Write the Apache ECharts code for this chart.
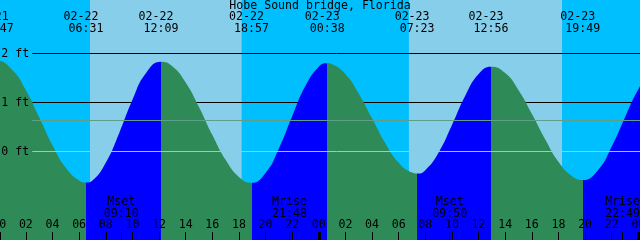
<!DOCTYPE html>
<html><head><meta charset="utf-8">
<script src="https://cdn.jsdelivr.net/npm/echarts@6/dist/echarts.min.js"></script>
<style>html,body{margin:0;padding:0;background:#00BFFF}#c{width:640px;height:240px}</style>
</head><body><div id="c"></div>
<script>
// ---------- data ----------
const chartTitle = 'Hobe Sound bridge, Florida';
// hourly water level readings (ft), hours counted from 02-22 00:00
const hourTimes = [-2,-1,0,1,2,3,4,5,6,7,8,9,10,11,12,13,14,15,16,17,18,19,20,21,22,23,24,25,26,27,28,29,30,31,32,33,34,35,36,37,38,39,40,41,42,43,44,45,46,47,48,49,50];
const hourHeights = [1.45,1.78,1.85,1.66,1.25,0.70,0.13,-0.33,-0.59,-0.59,-0.23,0.37,1.05,1.59,1.83,1.74,1.41,0.91,0.34,-0.17,-0.52,-0.64,-0.44,0.06,0.72,1.34,1.73,1.78,1.58,1.18,0.68,0.17,-0.23,-0.43,-0.38,-0.02,0.54,1.14,1.58,1.73,1.60,1.25,0.77,0.25,-0.21,-0.50,-0.58,-0.37,0.10,0.70,1.27,1.67,1.80];
// tide extremes
const tideEventTimes = ['02-21 23:47','02-22 06:31','02-22 12:09','02-22 18:57','02-23 00:38','02-23 07:23','02-23 12:56','02-23 19:49'];
const tideEventHeights = [1.86,-0.63,1.83,-0.64,1.80,-0.45,1.73,-0.58];
const tideEventKinds = ['high','low','high','low','high','low','high','low'];
// sun events (sunrise, sunset, ...)
const sunEventTimes = ['02-22 06:49','02-22 18:13','02-23 06:46','02-23 18:17'];
// moon events
const moonEventTimes = ['02-22 09:10','02-22 21:48','02-23 09:50','02-23 22:49'];
const moonEventNames = ['Mset','Mrise','Mset','Mrise'];
// depth lines
const depthLevels = [2, 1, 0];
const depthLabels = ['2 ft', '1 ft', '0 ft'];
const meanLevel = 0.633;
const hourLabelStep = 2;

// ---------- helpers ----------
const FONT = 'DejaVu Sans Mono';
const FS = 11.6;
const X_MIN = -2, X_MAX = 50;
const Y_MIN = -1.806, Y_MAX = 3.092;
const LINE_START = 2.48; // hours: depth lines start right of their labels
const C_NIGHT = '#00BFFF', C_DAY = '#87CEEB', C_RISE = '#0000FF', C_FALL = '#2E8B57';
const pad2 = n => String(n).padStart(2, '0');
function toHours(s) {
  const [md, hm] = s.split(' ');
  const d = Number(md.split('-')[1]);
  const [h, m] = hm.split(':').map(Number);
  return (d - 22) * 24 + h + m / 60;
}
const tideHours = tideEventTimes.map(toHours);
const sunHours = sunEventTimes.map(toHours);
const moonHours = moonEventTimes.map(toHours);
const midnightHours = [];
for (let t = Math.ceil(X_MIN / 24) * 24; t <= X_MAX; t += 24) midnightHours.push(t);

// hourly readings (skipping those that nearly coincide with an extreme) + extremes
const curve = hourTimes.map((t, i) => [t, hourHeights[i]])
  .filter(p => tideHours.every(e => Math.abs(e - p[0]) > 0.25))
  .concat(tideHours.map((t, i) => [t, tideEventHeights[i]]))
  .sort((a, b) => a[0] - b[0]);

const pieces = [];
pieces.push({ lt: tideHours[0], color: tideEventKinds[0] === 'high' ? C_RISE : C_FALL });
for (let i = 0; i < tideHours.length; i++) {
  const color = tideEventKinds[i] === 'low' ? C_RISE : C_FALL;
  if (i < tideHours.length - 1) pieces.push({ gte: tideHours[i], lt: tideHours[i + 1], color });
  else pieces.push({ gte: tideHours[i], color });
}

const bounds = [X_MIN, ...sunHours, X_MAX];
const skyBands = [];
for (let i = 0; i < bounds.length - 1; i++) {
  skyBands.push([{ xAxis: bounds[i], itemStyle: { color: i % 2 === 0 ? C_NIGHT : C_DAY, opacity: 1 } }, { xAxis: bounds[i + 1] }]);
}

function findIdx(arr, v) {
  let best = 0;
  arr.forEach((t, i) => { if (Math.abs(t - v) < Math.abs(arr[best] - v)) best = i; });
  return best;
}
const txt = { fontFamily: FONT, fontSize: FS, color: '#000' };

const baseX = { type: 'value', min: X_MIN, max: X_MAX, splitLine: { show: false }, axisLine: { show: false, onZero: false }, z: 10 };

const option = {
  animation: false,
  backgroundColor: C_NIGHT,
  title: { text: chartTitle, left: 'center', top: 0, padding: 0, z: 10,
    textStyle: { fontFamily: FONT, fontSize: FS, fontWeight: 'normal', color: '#000' } },
  grid: { left: -27.4, right: -25.0, top: 0, bottom: 0, containLabel: false, outerBoundsMode: 'none' },
  visualMap: { type: 'piecewise', show: false, dimension: 0, seriesIndex: 2, pieces },
  xAxis: [
    { ...baseX, position: 'bottom', interval: hourLabelStep,
      axisTick: { show: true, inside: true, length: 8, lineStyle: { color: '#000', width: 1 } },
      axisLabel: { show: true, inside: true, margin: 9, ...txt,
        formatter: v => pad2(((Math.round(v) % 24) + 24) % 24) } },
    { ...baseX, position: 'bottom',
      axisTick: { show: true, inside: true, length: 8, customValues: moonHours, lineStyle: { color: '#000', width: 1 } },
      axisLabel: { show: true, inside: true, margin: 20.5, customValues: moonHours, ...txt, lineHeight: 12,
        formatter: v => { const i = findIdx(moonHours, v); return moonEventNames[i] + '\n' + moonEventTimes[i].split(' ')[1]; } } },
    { ...baseX, position: 'bottom',
      axisTick: { show: true, inside: true, length: 8, customValues: midnightHours, lineStyle: { color: '#000', width: 3 } },
      axisLabel: { show: false } },
    { ...baseX, position: 'top',
      axisTick: { show: false },
      axisLabel: { show: true, inside: true, margin: 11.3, customValues: tideHours, ...txt,
        formatter: v => { const i = findIdx(tideHours, v); const [d, t] = tideEventTimes[i].split(' '); return '{d|' + d + '}\n{t|' + t + '}'; },
        rich: { d: { ...txt, lineHeight: 12, padding: [0, 10, 0, 0] }, t: { ...txt, lineHeight: 12 } } } }
  ],
  yAxis: { type: 'value', min: Y_MIN, max: Y_MAX, show: false, splitLine: { show: false } },
  series: [
    { type: 'line', data: [], z: 1, silent: true,
      markArea: { silent: true, z: 1, data: skyBands } },
    { type: 'line', data: [], z: 2, silent: true,
      markLine: { silent: true, z: 2, symbol: 'none', animation: false,
        lineStyle: { color: '#000', width: 1, type: 'solid', opacity: 1 },
        label: { show: false },
        data: depthLevels.filter(v => v !== 0).map(v => [{ coord: [LINE_START, v] }, { coord: [X_MAX, v] }]) } },
    { type: 'line', data: curve, z: 3, smooth: true, symbol: 'none', showSymbol: false, silent: true,
      lineStyle: { width: 0 }, areaStyle: { opacity: 1, origin: 'start' } },
    { type: 'line', data: [], z: 4, silent: true,
      markLine: { silent: true, z: 4, symbol: 'none', animation: false,
        data: [
          [{ coord: [LINE_START, meanLevel], lineStyle: { color: '#5F9F8A', width: 1, type: 'solid', opacity: 1 }, label: { show: false } }, { coord: [X_MAX, meanLevel] }],
          [{ coord: [LINE_START, 0], lineStyle: { color: C_DAY, width: 1, type: 'solid', opacity: 1 }, label: { show: false } }, { coord: [X_MAX, 0] }]
        ] } },
    { type: 'line', data: [], z: 5, silent: true,
      markLine: { silent: true, z: 5, symbol: 'none', animation: false,
        lineStyle: { color: 'rgba(0,0,0,0)', width: 1, opacity: 1 },
        label: { show: true, position: 'start', distance: 3, ...txt },
        data: depthLevels.map((v, i) => [{ coord: [LINE_START, v], label: { formatter: depthLabels[i] } }, { coord: [X_MAX, v] }]) } }
  ]
};
const chart = echarts.init(document.getElementById('c'), null, { renderer: 'canvas' });
chart.setOption(option);
</script></body></html>
